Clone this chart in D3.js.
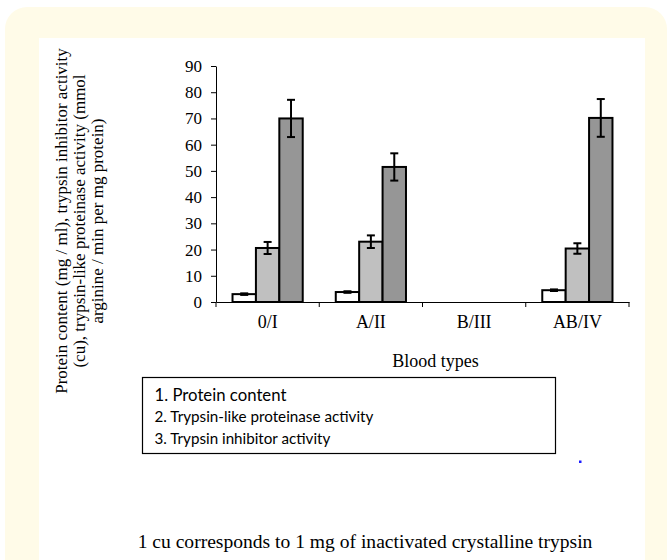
<!DOCTYPE html>
<html>
<head>
<meta charset="utf-8">
<script src="https://cdn.jsdelivr.net/npm/d3@7"></script>
<style>
  body { margin: 0; background: #fff; }
</style>
</head>
<body>
<svg id="chart" width="672" height="560"></svg>
<script>
// data
var bloodTypes = ["0/I", "A/II", "B/III", "AB/IV"];
var seriesNames = ["Protein content", "Trypsin-like proteinase activity", "Trypsin inhibitor activity"];
var proteinVals = [3.0, 3.8, null, 4.5];
var proteinErr = [0.3, 0.3, null, 0.3];
var proteinaseVals = [20.6, 23.0, null, 20.4];
var proteinaseErr = [2.3, 2.4, null, 2.0];
var inhibitorVals = [70.0, 51.5, null, 70.2];
var inhibitorErr = [7.1, 5.2, null, 7.2];
var yTicks = [0, 10, 20, 30, 40, 50, 60, 70, 80, 90];
var barColors = ["#ffffff", "#c0c0c0", "#969696"];

var serif = "'Liberation Serif', 'Times New Roman', serif";
var sans = "Lato, 'Open Sans', sans-serif";

var svg = d3.select("#chart");

// shrink/grow a text's font so it spans a given width
function fitText(sel, target) {
  sel.each(function() {
    var fs = parseFloat(this.style.fontSize);
    var w = this.getComputedTextLength();
    if (w > 0) d3.select(this).style("font-size", (fs * target / w) + "px");
  });
}

// page background: yellow rounded panel with white sheet
svg.append("rect").attr("x", 5).attr("y", 7).attr("width", 662).attr("height", 600)
  .attr("rx", 22).attr("fill", "#fffbe8");
svg.append("rect").attr("x", 39).attr("y", 38).attr("width", 606).attr("height", 530)
  .attr("fill", "#ffffff");

var margin = {left: 216, top: 66, right: 43, bottom: 258};
var width = 672 - margin.left - margin.right,
    height = 560 - margin.top - margin.bottom;
var g = svg.append("g").attr("transform", "translate(" + margin.left + "," + margin.top + ")");

var x = d3.scaleBand().domain(bloodTypes).range([0, width]).paddingInner(0.32).paddingOuter(0.16);
var xs = d3.scaleBand().domain([0, 1, 2]).range([0, x.bandwidth()]);
var y = d3.scaleLinear().domain([0, 90]).range([height, 0]);

var rows = [];
[proteinVals, proteinaseVals, inhibitorVals].forEach(function(vals, s) {
  var errs = [proteinErr, proteinaseErr, inhibitorErr][s];
  vals.forEach(function(v, i) {
    if (v != null) rows.push({cat: bloodTypes[i], s: s, v: v, e: errs[i]});
  });
});

g.selectAll(".bar").data(rows).enter().append("rect")
  .attr("class", "bar")
  .attr("x", function(d) { return x(d.cat) + xs(d.s); })
  .attr("y", function(d) { return y(d.v); })
  .attr("width", xs.bandwidth())
  .attr("height", function(d) { return y(0) - y(d.v); })
  .attr("fill", function(d) { return barColors[d.s]; })
  .attr("stroke", "#000").attr("stroke-width", 2);

// error bars
var eb = g.selectAll(".err").data(rows).enter().append("g").attr("class", "err")
  .attr("transform", function(d) { return "translate(" + (x(d.cat) + xs(d.s) + xs.bandwidth() / 2) + ",0)"; });
eb.append("line").attr("y1", function(d) { return y(d.v + d.e); }).attr("y2", function(d) { return y(d.v - d.e); })
  .attr("stroke", "#000").attr("stroke-width", 2);
eb.append("line").attr("x1", -4).attr("x2", 4)
  .attr("y1", function(d) { return y(d.v + d.e); }).attr("y2", function(d) { return y(d.v + d.e); })
  .attr("stroke", "#000").attr("stroke-width", 2);
eb.append("line").attr("x1", -4).attr("x2", 4)
  .attr("y1", function(d) { return y(d.v - d.e); }).attr("y2", function(d) { return y(d.v - d.e); })
  .attr("stroke", "#000").attr("stroke-width", 2);

// axes
var yAxis = g.append("g").call(d3.axisLeft(y).tickValues(yTicks).tickSize(5).tickPadding(9).tickSizeOuter(0));
var xAxis = g.append("g").attr("transform", "translate(0," + height + ")")
  .call(d3.axisBottom(x).tickSize(0).tickPadding(13));
// excel style ticks between groups
xAxis.selectAll(".sep").data(d3.range(bloodTypes.length + 1)).enter().append("line")
  .attr("class", "sep")
  .attr("x1", function(i) { return i * width / bloodTypes.length; })
  .attr("x2", function(i) { return i * width / bloodTypes.length; })
  .attr("y1", 0).attr("y2", 5);
[yAxis, xAxis].forEach(function(a) {
  a.selectAll("path, line").attr("stroke", "#000").attr("stroke-width", 1);
  a.selectAll("text").attr("fill", "#000").style("font-family", serif);
});
yAxis.selectAll("text").style("font-size", "17px");
xAxis.selectAll("text").style("font-size", "18px");

// axis titles
var yTitle = ["Protein content (mg / ml), trypsin inhibitor activity",
              "(cu), trypsin-like proteinase activity (mmol",
              "arginine / min per mg protein)"];
svg.append("text").attr("transform", "translate(0,221) rotate(-90)")
  .attr("text-anchor", "middle")
  .style("font-family", serif).style("font-size", "17px")
  .selectAll("tspan").data(yTitle).enter().append("tspan")
  .attr("x", 0).attr("y", function(d, i) { return 67 + i * 18; })
  .text(function(d) { return d; });

svg.append("text").attr("x", 435.5).attr("y", 367).attr("text-anchor", "middle")
  .style("font-family", serif).style("font-size", "18px")
  .text("Blood types");

// legend box
var legW = [132, 219, 176];
svg.append("rect").attr("x", 142.5).attr("y", 377.5).attr("width", 413).attr("height", 76)
  .attr("fill", "none").attr("stroke", "#000").attr("stroke-width", 1.2);
svg.selectAll(".leg").data(seriesNames).enter().append("text")
  .attr("class", "leg")
  .attr("x", 154.5).attr("y", function(d, i) { return [401, 422, 444][i]; })
  .style("font-family", sans)
  .style("font-size", function(d, i) { return i == 0 ? "16px" : "14px"; })
  .text(function(d, i) { return (i + 1) + ". " + d; })
  .each(function(d, i) { fitText(d3.select(this), legW[i]); });

svg.append("rect").attr("x", 579).attr("y", 460.5).attr("width", 2.5).attr("height", 2.5).attr("fill", "#1c1cff");

svg.append("text").attr("x", 365).attr("y", 548).attr("text-anchor", "middle")
  .style("font-family", serif).style("font-size", "19px")
  .text("1 cu corresponds to 1 mg of inactivated crystalline trypsin")
  .call(fitText, 455);
</script>
</body>
</html>
